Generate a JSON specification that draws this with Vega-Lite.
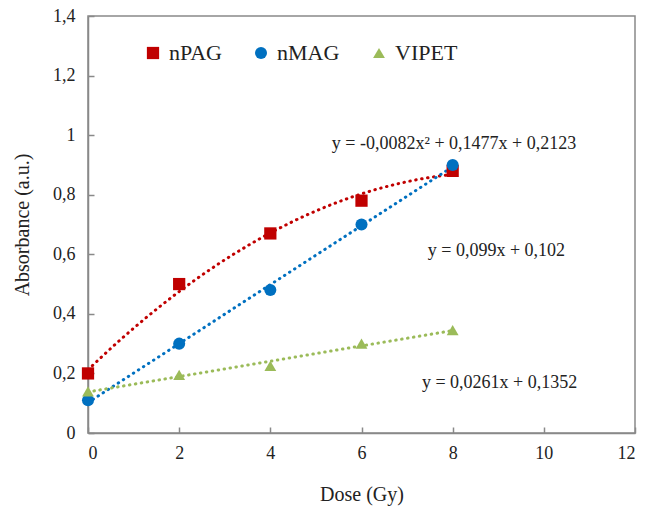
{
  "$schema": "https://vega.github.io/schema/vega-lite/v6.json",
  "width": 547,
  "height": 417,
  "autosize": "none",
  "padding": {"left": 88, "top": 16, "right": 19, "bottom": 80},
  "background": "white",
  "config": {
    "locale": {"number": {"decimal": ",", "thousands": ".", "grouping": [3], "currency": ["", "€"]}},
    "font": "Liberation Serif, DejaVu Serif, serif",
    "view": {"stroke": "#898989", "strokeWidth": 1.5},
    "text": {"font": "Liberation Serif, DejaVu Serif, serif"},
    "axis": {
      "grid": false,
      "domainColor": "#898989",
      "domainWidth": 1.5,
      "tickColor": "#898989",
      "tickWidth": 1.5,
      "tickSize": -6,
      "labelFont": "Liberation Serif, DejaVu Serif, serif",
      "labelFontSize": 18,
      "labelColor": "#222",
      "titleFont": "Liberation Serif, DejaVu Serif, serif",
      "titleFontSize": 20,
      "titleFontWeight": "normal",
      "titleColor": "#222"
    },
    "legend": {
      "labelFont": "Liberation Serif, DejaVu Serif, serif"
    }
  },
  "datasets": {
    "pts": [
      {"series": "nPAG", "dose": 0, "abs": 0.20},
      {"series": "nPAG", "dose": 2, "abs": 0.50},
      {"series": "nPAG", "dose": 4, "abs": 0.67},
      {"series": "nPAG", "dose": 6, "abs": 0.78},
      {"series": "nPAG", "dose": 8, "abs": 0.88},
      {"series": "nMAG", "dose": 0, "abs": 0.11},
      {"series": "nMAG", "dose": 2, "abs": 0.30},
      {"series": "nMAG", "dose": 4, "abs": 0.48},
      {"series": "nMAG", "dose": 6, "abs": 0.70},
      {"series": "nMAG", "dose": 8, "abs": 0.90},
      {"series": "VIPET", "dose": 0, "abs": 0.14},
      {"series": "VIPET", "dose": 2, "abs": 0.195},
      {"series": "VIPET", "dose": 4, "abs": 0.225},
      {"series": "VIPET", "dose": 6, "abs": 0.30},
      {"series": "VIPET", "dose": 8, "abs": 0.345}
    ],
    "eqs": [
      {"label": "y = -0,0082x² + 0,1477x + 0,2123", "dose": 8.03, "abs": 0.97},
      {"label": "y = 0,099x + 0,102", "dose": 8.96, "abs": 0.612},
      {"label": "y = 0,0261x + 0,1352", "dose": 9.03, "abs": 0.168}
    ]
  },
  "layer": [
    {
      "data": {"name": "pts"},
      "transform": [
        {"filter": "datum.series === 'nPAG'"},
        {"regression": "abs", "on": "dose", "method": "poly", "order": 2, "extent": [0, 8]}
      ],
      "mark": {"type": "line", "strokeDash": [0.5, 5.5], "strokeWidth": 3, "strokeCap": "round", "color": "#C00000"},
      "encoding": {
        "x": {"field": "dose", "type": "quantitative"},
        "y": {"field": "abs", "type": "quantitative"}
      }
    },
    {
      "data": {"name": "pts"},
      "transform": [
        {"filter": "datum.series === 'nMAG'"},
        {"regression": "abs", "on": "dose", "extent": [0, 8]}
      ],
      "mark": {"type": "line", "strokeDash": [0.5, 5.5], "strokeWidth": 3, "strokeCap": "round", "color": "#0070C0"},
      "encoding": {
        "x": {"field": "dose", "type": "quantitative"},
        "y": {"field": "abs", "type": "quantitative"}
      }
    },
    {
      "data": {"name": "pts"},
      "transform": [
        {"filter": "datum.series === 'VIPET'"},
        {"regression": "abs", "on": "dose", "extent": [0, 8]}
      ],
      "mark": {"type": "line", "strokeDash": [0.5, 5.5], "strokeWidth": 3, "strokeCap": "round", "color": "#9BBB59"},
      "encoding": {
        "x": {"field": "dose", "type": "quantitative"},
        "y": {"field": "abs", "type": "quantitative"}
      }
    },
    {
      "data": {"name": "pts"},
      "mark": {"type": "point", "filled": true, "opacity": 1},
      "encoding": {
        "x": {
          "field": "dose", "type": "quantitative",
          "scale": {"domain": [0, 12], "nice": false, "zero": false},
          "axis": {"values": [0, 2, 4, 6, 8, 10, 12], "title": "Dose (Gy)", "labelPadding": 17, "titlePadding": 22, "format": "~g"}
        },
        "y": {
          "field": "abs", "type": "quantitative",
          "scale": {"domain": [0, 1.4], "nice": false},
          "axis": {"values": [0, 0.2, 0.4, 0.6, 0.8, 1, 1.2, 1.4], "title": "Absorbance (a.u.)", "labelPadding": 19, "titlePadding": 20, "format": "~g"}
        },
        "size": {
          "field": "series", "type": "nominal",
          "scale": {"domain": ["nPAG", "nMAG", "VIPET"], "range": [150, 140, 210]},
          "legend": null
        },
        "color": {
          "field": "series", "type": "nominal",
          "scale": {"domain": ["nPAG", "nMAG", "VIPET"], "range": ["#C00000", "#0070C0", "#9BBB59"]},
          "legend": {
            "title": null, "orient": "none", "legendX": 54, "legendY": 26, "direction": "horizontal",
            "labelFontSize": 22, "labelColor": "#222",
            "symbolSize": 110, "columnPadding": 28, "labelOffset": 5, "symbolStrokeWidth": 0
          }
        },
        "shape": {
          "field": "series", "type": "nominal",
          "scale": {"domain": ["nPAG", "nMAG", "VIPET"], "range": ["square", "circle", "triangle-up"]},
          "legend": {
            "title": null, "orient": "none", "legendX": 54, "legendY": 26, "direction": "horizontal",
            "labelFontSize": 22, "labelColor": "#222",
            "symbolSize": 110, "columnPadding": 28, "labelOffset": 5, "symbolStrokeWidth": 0
          }
        }
      }
    },
    {
      "data": {"name": "eqs"},
      "mark": {"type": "text", "fontSize": 18, "color": "#222", "align": "center", "baseline": "middle"},
      "encoding": {
        "x": {"field": "dose", "type": "quantitative"},
        "y": {"field": "abs", "type": "quantitative"},
        "text": {"field": "label", "type": "nominal"}
      }
    }
  ]
}
